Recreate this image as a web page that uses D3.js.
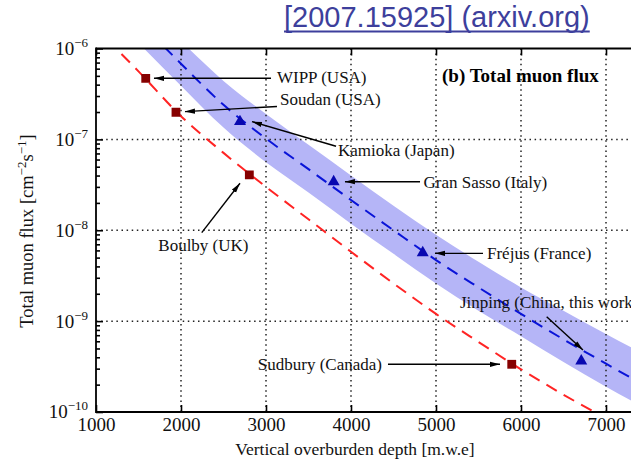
<!DOCTYPE html>
<html>
<head>
<meta charset="utf-8">
<script src="https://cdn.jsdelivr.net/npm/d3@7"></script>
<style>
  html, body { margin: 0; padding: 0; background: #fff; }
  svg { display: block; }
</style>
</head>
<body>
<svg id="chart" width="631" height="462"></svg>
<script>
// Underground laboratories: vertical depth (m.w.e.) and total muon flux (cm^-2 s^-1)
const siteNames  = ["WIPP (USA)", "Soudan (USA)", "Kamioka (Japan)", "Boulby (UK)",
                    "Gran Sasso (Italy)", "Fréjus (France)", "Sudbury (Canada)", "Jinping (China, this work)"];
const siteDepths = [1585, 1941, 2694, 2804, 3796, 4844, 5891, 6709];
const siteFluxes = [4.7e-7, 1.99e-7, 1.57e-7, 4.06e-8, 3.42e-8, 5.66e-9, 3.35e-10, 3.64e-10];
const siteGroups = ["red", "red", "blue", "red", "blue", "blue", "red", "blue"];

// Reference depth-intensity curve (red dashed)
const refDepths = [1300, 1500, 2000, 2500, 3000, 3500, 4000, 4500, 5000, 5500, 6000, 6500, 7000];
const refFlux   = [8.7e-7, 5.6e-7, 1.8e-7, 7.1e-8, 3.0e-8, 1.32e-8, 5.8e-9, 2.6e-9, 1.2e-9, 5.9e-10, 2.95e-10, 1.55e-10, 8.5e-11];

// Fit to the triangle sites (blue dashed) and its uncertainty band
const fitDepths = [1800, 2000, 2500, 3000, 3500, 4000, 4500, 5000, 5500, 6000, 6500, 7000, 7500];
const fitFlux   = [1.05e-6, 6.8e-7, 2.4e-7, 1.02e-7, 4.7e-8, 2.15e-8, 1.0e-8, 4.7e-9, 2.35e-9, 1.2e-9, 6.3e-10, 3.4e-10, 1.86e-10];
const bandDepths = [1500, 2000, 2500, 3000, 3500, 4000, 4500, 5000, 5500, 6000, 6500, 7000, 7500];
const bandUpper  = [3.2e-6, 1.2e-6, 4.4e-7, 1.9e-7, 8.7e-8, 4.0e-8, 1.86e-8, 8.9e-9, 4.5e-9, 2.35e-9, 1.3e-9, 7.2e-10, 4.1e-10];
const bandLower  = [1.15e-6, 3.9e-7, 1.35e-7, 5.6e-8, 2.6e-8, 1.18e-8, 5.5e-9, 2.6e-9, 1.3e-9, 6.8e-10, 3.55e-10, 1.9e-10, 1.05e-10];

// Axis ticks
const xTickValues = [1000, 2000, 3000, 4000, 5000, 6000, 7000];
const xGridValues = [2000, 3000, 4000, 5000, 6000, 7000];
const yTickExponents = [-10, -9, -8, -7, -6];
const yGridExponents = [-9, -8, -7];

// Label placement in data units: text anchor, arrow tail, arrow head
const annotations = [
  { name: "WIPP (USA)",         text: [3129, 4.8e-7],  anchor: "start", from: [3059, 4.7e-7],  to: [1682, 4.7e-7] },
  { name: "Soudan (USA)",       text: [3165, 2.8e-7],  anchor: "start", from: [3129, 2.3e-7],  to: [2047, 2.02e-7] },
  { name: "Kamioka (Japan)",    text: [3847, 7.6e-8],  anchor: "start", from: [3824, 8.4e-8],  to: [2835, 1.57e-7] },
  { name: "Gran Sasso (Italy)", text: [4853, 3.42e-8], anchor: "start", from: [4812, 3.42e-8], to: [3929, 3.42e-8] },
  { name: "Fréjus (France)",    text: [5600, 5.57e-9], anchor: "start", from: [5553, 5.57e-9], to: [4988, 5.57e-9] },
  { name: "Jinping (China, this work)", text: [5282, 1.64e-9], anchor: "start", from: [6302, 1.12e-9], to: [6729, 4.8e-10] },
  { name: "Sudbury (Canada)",   text: [4365, 3.35e-10], anchor: "end", from: [4435, 3.35e-10], to: [5753, 3.35e-10] },
  { name: "Boulby (UK)",        text: [1733, 6.9e-9],  anchor: "start", from: [2244, 9.4e-9],  to: [2694, 3.29e-8] }
];

const serif = "'Liberation Serif', 'Times New Roman', serif";
const svg = d3.select("#chart");

const plot = { left: 96, top: 48.5, bottom: 412 };
const x = d3.scaleLinear().domain([1000, 7500]).range([plot.left, plot.left + 6500 * 0.085]);
const y = d3.scaleLog().domain([1e-10, 1e-6]).range([plot.bottom, plot.top]);

svg.append("defs").append("clipPath").attr("id", "plotClip")
  .append("rect").attr("x", plot.left).attr("y", plot.top)
  .attr("width", x.range()[1] - plot.left).attr("height", plot.bottom - plot.top);

svg.select("defs").append("marker")
  .attr("id", "arrowHead").attr("viewBox", "0 -3 10 6")
  .attr("refX", 10).attr("refY", 0)
  .attr("markerWidth", 10).attr("markerHeight", 6)
  .attr("markerUnits", "userSpaceOnUse").attr("orient", "auto")
  .append("path").attr("d", "M0,-2.6L10,0L0,2.6Z").attr("fill", "#000");

const inner = svg.append("g").attr("clip-path", "url(#plotClip)");

// uncertainty band
const band = d3.area()
  .x((d, i) => x(bandDepths[i]))
  .y0((d, i) => y(bandLower[i]))
  .y1((d, i) => y(bandUpper[i]))
  .curve(d3.curveMonotoneX);
inner.append("path").datum(bandDepths).attr("d", band)
  .attr("fill", "#b5b5f7").attr("stroke", "none");

// dotted grid
inner.selectAll(".vgrid").data(xGridValues).join("line")
  .attr("x1", d => x(d)).attr("x2", d => x(d))
  .attr("y1", plot.top).attr("y2", plot.bottom)
  .attr("stroke", "#222").attr("stroke-width", 1.5).attr("stroke-dasharray", "1.5,3.6");
inner.selectAll(".hgrid").data(yGridExponents).join("line")
  .attr("x1", plot.left).attr("x2", x.range()[1])
  .attr("y1", d => y(Math.pow(10, d))).attr("y2", d => y(Math.pow(10, d)))
  .attr("stroke", "#222").attr("stroke-width", 1.5).attr("stroke-dasharray", "1.5,3.6");

// curves
const curveLine = (xs, ys) => d3.line()
  .x((d, i) => x(xs[i])).y((d, i) => y(ys[i]))
  .curve(d3.curveMonotoneX);
inner.append("path").datum(refDepths).attr("d", curveLine(refDepths, refFlux))
  .attr("fill", "none").attr("stroke", "#ff2424").attr("stroke-width", 2)
  .attr("stroke-dasharray", "12,8");
inner.append("path").datum(fitDepths).attr("d", curveLine(fitDepths, fitFlux))
  .attr("fill", "none").attr("stroke", "#0a14d8").attr("stroke-width", 2)
  .attr("stroke-dasharray", "12,8");

// site markers
const sites = siteNames.map((n, i) => ({ name: n, depth: siteDepths[i], flux: siteFluxes[i], group: siteGroups[i] }));
inner.selectAll(".site").data(sites).join("path")
  .attr("transform", d => `translate(${x(d.depth)},${y(d.flux)})`)
  .attr("d", d => d.group === "red"
      ? d3.symbol(d3.symbolSquare, 78)()
      : d3.symbol(d3.symbolTriangle, 62)())
  .attr("fill", d => d.group === "red" ? "#860000" : "#0808b0");

// arrows and labels
svg.selectAll(".arrow").data(annotations).join("line")
  .attr("x1", d => x(d.from[0])).attr("y1", d => y(d.from[1]))
  .attr("x2", d => x(d.to[0])).attr("y2", d => y(d.to[1]))
  .attr("stroke", "#000").attr("stroke-width", 1.4)
  .attr("marker-end", "url(#arrowHead)");
svg.selectAll(".label").data(annotations).join("text")
  .attr("x", d => x(d.text[0])).attr("y", d => y(d.text[1]))
  .attr("dy", "0.35em").attr("text-anchor", d => d.anchor)
  .attr("font-family", serif).attr("font-size", 17).attr("fill", "#111")
  .text(d => d.name);

svg.append("text").attr("x", 442).attr("y", 75).attr("dy", "0.35em")
  .attr("font-family", serif).attr("font-size", 19).attr("font-weight", "bold")
  .text("(b) Total muon flux");

// axes
const xAxisG = svg.append("g").attr("transform", `translate(0,${plot.bottom})`)
  .call(d3.axisBottom(x).tickValues(xTickValues).tickSizeInner(-7).tickSizeOuter(0)
        .tickPadding(6).tickFormat(d3.format("d")));
const xTopG = svg.append("g").attr("transform", `translate(0,${plot.top})`)
  .call(d3.axisTop(x).tickValues(xTickValues).tickSizeInner(-7).tickSizeOuter(0).tickFormat(""));
const yAxisG = svg.append("g").attr("transform", `translate(${plot.left},0)`)
  .call(d3.axisLeft(y).tickValues(yTickExponents.map(e => Math.pow(10, e)))
        .tickSizeInner(-7).tickSizeOuter(0).tickFormat(""));
const minorTicks = [];
yTickExponents.slice(0, -1).forEach(e => { for (let k = 2; k <= 9; k++) minorTicks.push(k * Math.pow(10, e)); });
const yMinorG = svg.append("g").attr("transform", `translate(${plot.left},0)`)
  .call(d3.axisLeft(y).tickValues(minorTicks).tickSizeInner(-4).tickSizeOuter(0).tickFormat(""));

[xAxisG, xTopG, yAxisG, yMinorG].forEach(g => {
  g.select(".domain").remove();
  g.selectAll(".tick line").attr("stroke", "#000").attr("stroke-width", 1.6);
});
xAxisG.selectAll(".tick text").attr("font-family", serif).attr("font-size", 19).attr("fill", "#111");

// frame
svg.append("line").attr("x1", plot.left).attr("x2", 631).attr("y1", plot.top).attr("y2", plot.top)
  .attr("stroke", "#000").attr("stroke-width", 1.8);
svg.append("line").attr("x1", plot.left).attr("x2", 631).attr("y1", plot.bottom).attr("y2", plot.bottom)
  .attr("stroke", "#000").attr("stroke-width", 1.8);
svg.append("line").attr("x1", plot.left).attr("x2", plot.left).attr("y1", plot.top - 0.9).attr("y2", plot.bottom + 0.9)
  .attr("stroke", "#000").attr("stroke-width", 1.8);

// y tick labels 10^n
const yLab = svg.selectAll(".ylab").data(yTickExponents).join("text")
  .attr("x", 88).attr("y", d => y(Math.pow(10, d)))
  .attr("dy", "0.4em").attr("text-anchor", "end")
  .attr("font-family", serif).attr("fill", "#111");
yLab.append("tspan").attr("font-size", 19).text("10");
yLab.append("tspan").attr("font-size", 13).attr("dy", -8).text(d => "\u2212" + Math.abs(d));

// axis titles
svg.append("text").attr("x", 355).attr("y", 455).attr("text-anchor", "middle")
  .attr("font-family", serif).attr("font-size", 17.5).attr("fill", "#111")
  .text("Vertical overburden depth [m.w.e]");
const yTitle = svg.append("text")
  .attr("transform", "translate(33,231) rotate(-90)")
  .attr("text-anchor", "middle")
  .attr("font-family", serif).attr("font-size", 18.5).attr("fill", "#111");
yTitle.append("tspan").text("Total muon flux [cm");
yTitle.append("tspan").attr("font-size", 13).attr("dy", -7).text("\u22122");
yTitle.append("tspan").attr("dy", 7).text("s");
yTitle.append("tspan").attr("font-size", 13).attr("dy", -7).text("\u22121");
yTitle.append("tspan").attr("dy", 7).text("]");

// source link
const link = svg.append("text").attr("x", 284).attr("y", 27)
  .attr("font-family", "'Liberation Sans', Arial, sans-serif").attr("font-size", 29)
  .attr("fill", "#3d3f9c").text("[2007.15925] (arxiv.org)");
const linkLen = link.node().getComputedTextLength();
svg.append("line").attr("x1", 284).attr("x2", 284 + linkLen).attr("y1", 31.5).attr("y2", 31.5)
  .attr("stroke", "#3d3f9c").attr("stroke-width", 2);
</script>
</body>
</html>
